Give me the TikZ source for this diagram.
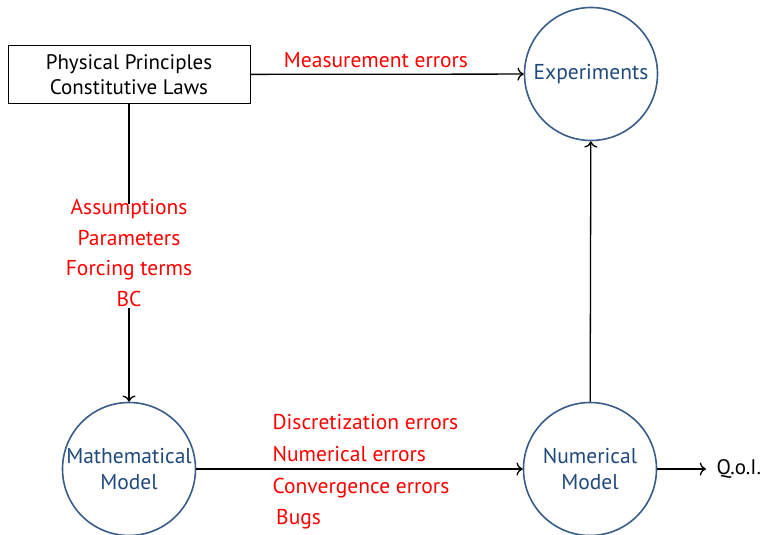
\documentclass[tikz,border=0pt]{standalone}
\usepackage{fontspec}
\usetikzlibrary{arrows.meta}
\setmainfont{PT Sans}
\definecolor{circblue}{RGB}{56,93,138}
\definecolor{textblue}{RGB}{31,73,125}
\begin{document}
\begin{tikzpicture}[x=1pt,y=-1pt,>={To[scale=1.4]},line width=1.3pt]
		\tikzstyle{block} = [rectangle,draw,line width=1pt,minimum width=242pt,minimum height=57pt,align=center,font=\fontsize{21}{25}\selectfont]
		\tikzstyle{model} = [circle,draw=circblue,line width=1.6pt,minimum size=133pt,inner sep=0pt,align=center,text=textblue,font=\fontsize{21.5}{26}\selectfont]
		\tikzstyle{err} = [text=red,inner sep=1pt,font=\fontsize{21.5}{30.7}\selectfont]
		\useasboundingbox (0,0) rectangle (771,535);
		\node[block]at (129,74.5)(laws){Physical Principles\\Constitutive Laws};
		\node[model](exp)at (591,74){Experiments};
		\node[model](math)at (129,469){Mathematical\\Model};
		\node[model](num)at (590,469){Numerical\\Model};
		\node[anchor=west,inner xsep=10pt,font=\fontsize{21}{22}\selectfont](qoi)at (706,469){Q.o.I.};
		\node[err,align=center](assume)at (129,253){Assumptions\\Parameters\\Forcing terms\\BC};
		\node[err,align=left,anchor=north west,font=\fontsize{21.5}{31.7}\selectfont](numerr)at (271,413){Discretization errors\\Numerical errors\\Convergence errors\\\,Bugs};
		\node[err,anchor=south](measerr)at (376,69){Measurement errors};
		\path[->] (laws) edge (exp)
		(assume) edge (math)
		(math) edge (num)
		(num) edge (exp)
		(num) edge (qoi);
		\path (laws) edge ([yshift=-6pt]assume.north);
		\end{tikzpicture}
\end{document}
